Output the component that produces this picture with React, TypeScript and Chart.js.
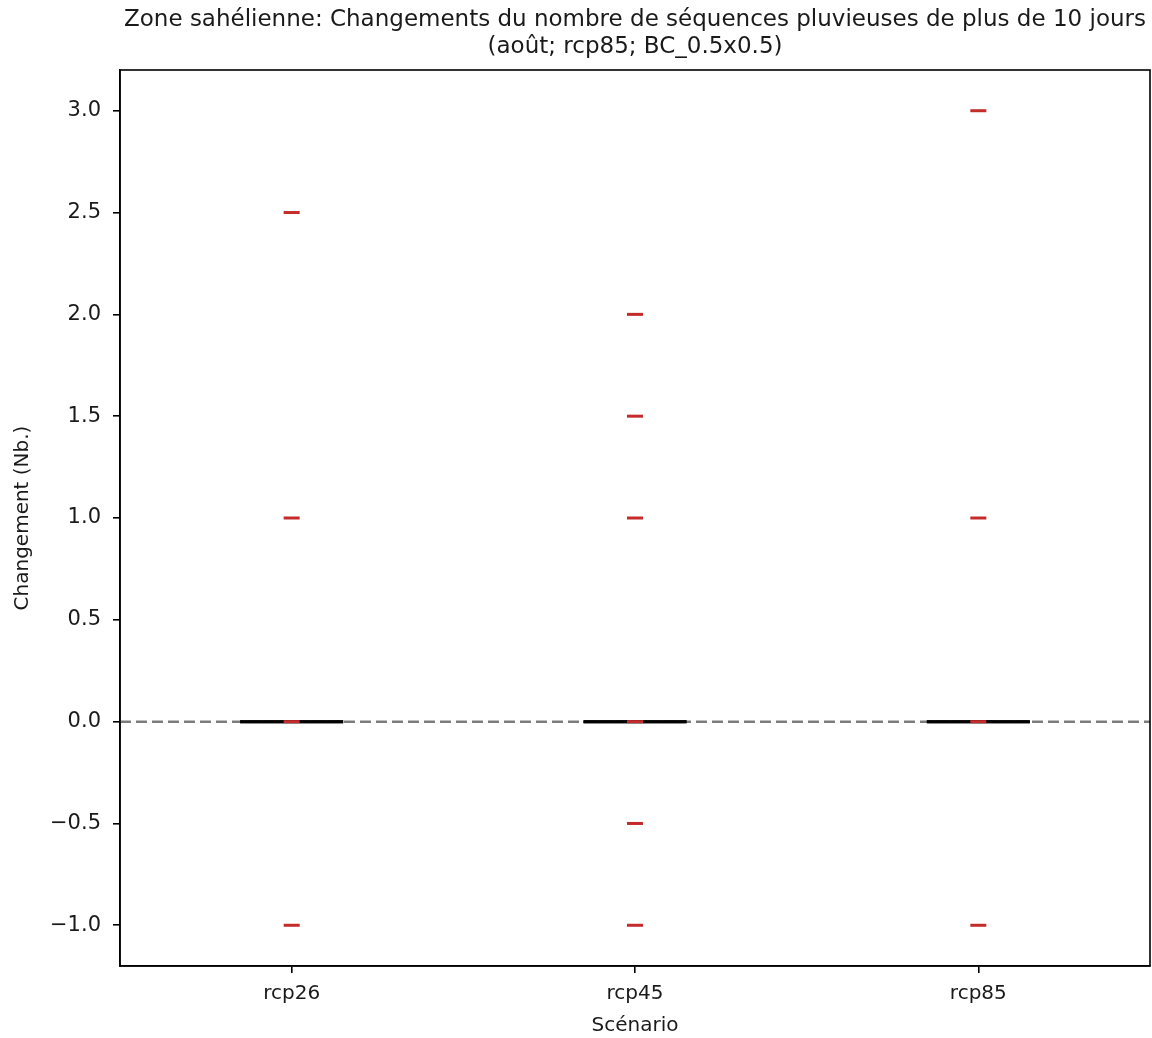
import React, { useEffect, useRef } from "react";
import { Chart, registerables } from "chart.js";

Chart.register(...registerables);

const categories = ["rcp26", "rcp45", "rcp85"];
const rcp26Values = [2.5, 1.0, 0.0, -1.0];
const rcp45Values = [2.0, 1.5, 1.0, 0.0, -0.5, -1.0];
const rcp85Values = [3.0, 1.0, 0.0, -1.0];
const medians = [0, 0, 0];
const q1s = [0, 0, 0];
const q3s = [0, 0, 0];
const whiskerLows = [0, 0, 0];
const whiskerHighs = [0, 0, 0];
const yTicks = [-1.0, -0.5, 0.0, 0.5, 1.0, 1.5, 2.0, 2.5, 3.0];
const titleLines = [
  "Zone sahélienne: Changements du nombre de séquences pluvieuses de plus de 10 jours",
  "(août; rcp85; BC_0.5x0.5)",
];
const xTitle = "Scénario";
const yTitle = "Changement (Nb.)";

const FONT = "'DejaVu Sans', sans-serif";
const TEXT = "#1a1a1a";
const RED = "#c42b2b";
const BOX_W = 0.3;

const boxPlugin = {
  id: "boxAndFrame",
  beforeDatasetsDraw(chart: any) {
    const { ctx, chartArea, scales } = chart;
    const x = scales.x;
    const y = scales.y;
    ctx.save();
    ctx.strokeStyle = "rgba(110,110,110,0.9)";
    ctx.lineWidth = 2.5;
    ctx.setLineDash([11, 5]);
    const y0 = y.getPixelForValue(0);
    ctx.beginPath();
    ctx.moveTo(chartArea.left, y0);
    ctx.lineTo(chartArea.right, y0);
    ctx.stroke();
    ctx.setLineDash([]);
    ctx.strokeStyle = "#000";
    ctx.lineWidth = 3;
    categories.forEach((_, i) => {
      const xl = x.getPixelForValue(i - BOX_W / 2);
      const xr = x.getPixelForValue(i + BOX_W / 2);
      const xc = x.getPixelForValue(i);
      const yq1 = y.getPixelForValue(q1s[i]);
      const yq3 = y.getPixelForValue(q3s[i]);
      const ym = y.getPixelForValue(medians[i]);
      ctx.beginPath();
      ctx.rect(xl, yq3, xr - xl, yq1 - yq3);
      ctx.stroke();
      ctx.beginPath();
      ctx.moveTo(xl, ym);
      ctx.lineTo(xr, ym);
      ctx.moveTo(xc, yq1);
      ctx.lineTo(xc, y.getPixelForValue(whiskerLows[i]));
      ctx.moveTo(xc, yq3);
      ctx.lineTo(xc, y.getPixelForValue(whiskerHighs[i]));
      ctx.stroke();
    });
    ctx.restore();
  },
  afterDraw(chart: any) {
    const { ctx, chartArea } = chart;
    ctx.save();
    ctx.strokeStyle = "#000";
    ctx.lineWidth = 1.6;
    ctx.strokeRect(
      chartArea.left,
      chartArea.top,
      chartArea.right - chartArea.left,
      chartArea.bottom - chartArea.top
    );
    ctx.restore();
  },
};

export default function App() {
  const ref = useRef<HTMLCanvasElement | null>(null);
  useEffect(() => {
    document.documentElement.style.overflow = "hidden";
    document.body.style.margin = "0";
    document.body.style.overflow = "hidden";
    if (!ref.current) return;
    const series = [rcp26Values, rcp45Values, rcp85Values];
    const chart = new Chart(ref.current, {
      type: "scatter",
      data: {
        datasets: series.map((vals, i) => ({
          label: categories[i],
          data: vals.map((v) => ({ x: i, y: v })),
          pointStyle: "line",
          radius: 8,
          borderWidth: 3,
          borderColor: RED,
          backgroundColor: RED,
          clip: false,
        })),
      },
      options: {
        animation: false,
        responsive: false,
        layout: { autoPadding: false, padding: { left: 0, right: 2, top: 0, bottom: 0 } },
        plugins: {
          legend: { display: false },
          tooltip: { enabled: false },
          title: {
            display: true,
            fullSize: false,
            text: titleLines,
            color: TEXT,
            font: { family: FONT, size: 23, weight: "normal", lineHeight: 1.2 },
            padding: { top: 6, bottom: 8.8 },
          },
        },
        scales: {
          x: {
            type: "linear",
            min: -0.5,
            max: 2.5,
            afterBuildTicks: (s: any) => {
              s.ticks = categories.map((_, i) => ({ value: i }));
            },
            afterFit: (s: any) => {
              s.height = 72;
              s.paddingLeft = 0;
              s.paddingRight = 0;
            },
            ticks: {
              color: TEXT,
              font: { family: FONT, size: 20 },
              padding: 9,
              maxRotation: 0,
              callback: (v: any) => categories[Math.round(Number(v))] ?? "",
            },
            grid: {
              display: true,
              drawOnChartArea: false,
              drawTicks: true,
              tickLength: 7,
              color: "#000",
              lineWidth: 1.6,
            },
            border: { display: true, color: "#000", width: 1.6 },
            title: {
              display: true,
              text: xTitle,
              color: TEXT,
              font: { family: FONT, size: 20 },
              padding: { top: 0, bottom: 0 },
            },
          },
          y: {
            type: "linear",
            min: -1.2,
            max: 3.2,
            afterBuildTicks: (s: any) => {
              s.ticks = yTicks.map((v) => ({ value: v }));
            },
            afterFit: (s: any) => {
              s.width = 120;
            },
            ticks: {
              color: TEXT,
              font: { family: FONT, size: 21 },
              padding: 12,
              callback: (v: any) => {
                const n = Number(v);
                return n < 0 ? "\u2212" + Math.abs(n).toFixed(1) : n.toFixed(1);
              },
            },
            grid: {
              display: true,
              drawOnChartArea: false,
              drawTicks: true,
              tickLength: 7,
              color: "#000",
              lineWidth: 1.6,
            },
            border: { display: true, color: "#000", width: 1.6 },
            title: {
              display: true,
              text: yTitle,
              color: TEXT,
              font: { family: FONT, size: 20 },
              padding: { top: 11, bottom: 0 },
            },
          },
        },
      },
      plugins: [boxPlugin],
    } as any);
    return () => chart.destroy();
  }, []);
  return (
    <div style={{ width: 1152, height: 1038, overflow: "hidden" }}>
      <canvas ref={ref} width={1152} height={1038} style={{ display: "block" }} />
    </div>
  );
}
